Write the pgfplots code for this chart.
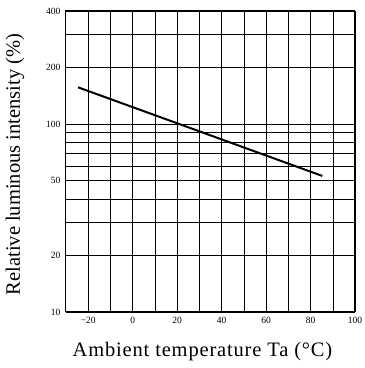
\documentclass[border=0pt]{standalone}
\usepackage{fontspec}
\setmainfont{Liberation Serif}
\usepackage{pgfplots}
\pgfplotsset{compat=1.18}
\begin{document}
\begin{tikzpicture}[x=1pt,y=1pt]
\begin{axis}[
  scale only axis, width=289pt, height=301pt,
  xmin=-30, xmax=100, ymode=log, ymin=10, ymax=400,
  log basis y=10,
  xtick={-20,0,20,40,60,80,100},
  xticklabels={−20,0,20,40,60,80,100},
  minor xtick={-20,-10,...,90},
  ytick={10,20,50,100,200,400},
  yticklabels={10,20,50,100,200,400},
  minor ytick={30,40,60,70,80,90,300},
  grid=both,
  major grid style={black, line width=0.5pt},
  minor grid style={black, line width=0.5pt},
  axis line style={black, line width=1pt},
  tick style={draw=none},
  xticklabel style={font=\fontsize{9.5}{10}\selectfont, yshift=-2pt},
  yticklabel style={font=\fontsize{9.5}{10}\selectfont, xshift=-2pt},
  xlabel={Ambient temperature Ta (\textdegree C)},
  ylabel={Relative luminous intensity (\%)},
  label style={font=\fontsize{20.5}{22}\selectfont},
  xlabel style={at={(axis description cs:0.5,0)}, anchor=center, yshift=-40pt, xshift=-8pt, font=\fontsize{20.5}{22}\selectfont\addfontfeature{LetterSpace=4}},
  ylabel style={at={(axis description cs:0,0.5)}, anchor=center, yshift=51pt, xshift=-3pt},
]
\addplot[black, line width=2pt] coordinates {(-24.6,157) (85.3,53)};
\end{axis}
\pgfresetboundingbox
\path (current axis.south west) ++(-66pt,-56pt) rectangle ([shift={(10pt,11pt)}]current axis.north east);
\end{tikzpicture}
\end{document}
